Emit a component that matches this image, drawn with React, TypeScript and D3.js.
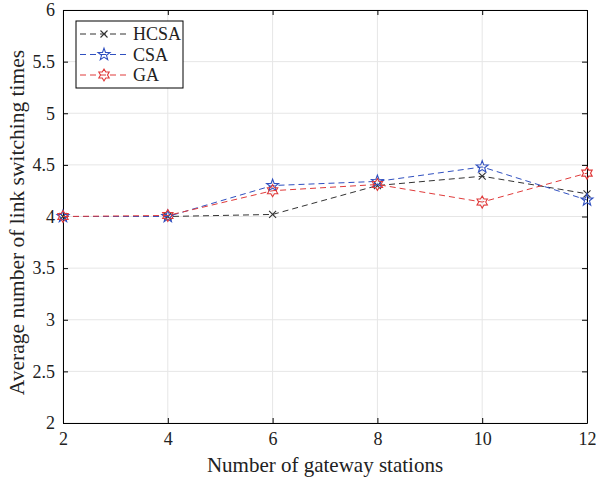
import React, { useEffect, useRef } from "react";
import * as d3 from "d3";

const stations = [2, 4, 6, 8, 10, 12];
const hcsa = [4.0, 4.0, 4.02, 4.3, 4.39, 4.22];
const csa = [4.0, 4.0, 4.3, 4.34, 4.48, 4.16];
const ga = [4.0, 4.01, 4.25, 4.31, 4.14, 4.42];
const xTicks = [2, 4, 6, 8, 10, 12];
const yTicks = [2, 2.5, 3, 3.5, 4, 4.5, 5, 5.5, 6];

const series = [
	{ name: "HCSA", values: hcsa, color: "#333333", marker: "x" },
	{ name: "CSA", values: csa, color: "#3050c0", marker: "pentagram" },
	{ name: "GA", values: ga, color: "#e03a3a", marker: "hexagram" },
];

function starPath(points, outer, inner) {
	let p = [];
	for (let i = 0; i < points * 2; i++) {
		const r = i % 2 === 0 ? outer : inner;
		const a = (Math.PI * i) / points - Math.PI / 2;
		p.push([r * Math.cos(a), r * Math.sin(a)]);
	}
	return "M" + p.map((d) => d.join(",")).join("L") + "Z";
}

function drawMarker(g, type, color) {
	let d;
	if (type === "x") d = "M-3.5,-3.5L3.5,3.5M-3.5,3.5L3.5,-3.5";
	else if (type === "pentagram") d = starPath(5, 6.3, 2.6);
	else d = starPath(6, 6, 3.5);
	g.append("path")
		.attr("d", d)
		.attr("stroke", color)
		.attr("stroke-width", 1.1)
		.attr("fill", "none");
}

export default function App() {
	const svgRef = useRef();

	useEffect(() => {
		const width = 596,
			height = 480;
		const margin = { top: 10, right: 9, bottom: 57, left: 63 };
		const w = width - margin.left - margin.right,
			h = height - margin.top - margin.bottom;

		const svg = d3.select(svgRef.current);
		svg.selectAll("*").remove();

		const g = svg
			.append("g")
			.attr("transform", `translate(${margin.left},${margin.top})`);

		const x = d3.scaleLinear().domain([2, 12]).range([0, w]);
		const y = d3.scaleLinear().domain([2, 6]).range([h, 0]);

		// grid
		g.append("g")
			.selectAll("line")
			.data(xTicks)
			.join("line")
			.attr("x1", (d) => x(d))
			.attr("x2", (d) => x(d))
			.attr("y1", 0)
			.attr("y2", h)
			.attr("stroke", "#e6e6e6");
		g.append("g")
			.selectAll("line")
			.data(yTicks)
			.join("line")
			.attr("y1", (d) => y(d))
			.attr("y2", (d) => y(d))
			.attr("x1", 0)
			.attr("x2", w)
			.attr("stroke", "#e6e6e6");

		const font = "'Liberation Serif', 'Times New Roman', serif";

		// axes
		const styleAxis = (sel) => {
			sel.select(".domain").attr("stroke", "#000");
			sel.selectAll(".tick line").attr("stroke", "#000");
			sel.selectAll("text")
				.attr("font-family", font)
				.attr("font-size", 18)
				.attr("fill", "#222");
		};
		g.append("g")
			.attr("transform", `translate(0,${h})`)
			.call(d3.axisBottom(x).tickValues(xTicks).tickSizeInner(-5).tickSizeOuter(0).tickPadding(9))
			.call(styleAxis);
		g.append("g")
			.call(d3.axisTop(x).tickValues(xTicks).tickSizeInner(-5).tickSizeOuter(0).tickFormat(() => ""))
			.call(styleAxis);
		g.append("g")
			.call(d3.axisLeft(y).tickValues(yTicks).tickSizeInner(-5).tickSizeOuter(0).tickPadding(8).tickFormat(d3.format("")))
			.call(styleAxis);
		g.append("g")
			.attr("transform", `translate(${w},0)`)
			.call(d3.axisRight(y).tickValues(yTicks).tickSizeInner(-5).tickSizeOuter(0).tickFormat(() => ""))
			.call(styleAxis);

		// lines
		const line = d3
			.line()
			.x((d, i) => x(stations[i]))
			.y((d) => y(d));

		series.forEach((s) => {
			g.append("path")
				.datum(s.values)
				.attr("fill", "none")
				.attr("stroke", s.color)
				.attr("stroke-width", 1)
				.attr("stroke-dasharray", "6,4")
				.attr("d", line);
			s.values.forEach((v, i) => {
				const m = g
					.append("g")
					.attr("transform", `translate(${x(stations[i])},${y(v)})`);
				drawMarker(m, s.marker, s.color);
			});
		});

		// labels
		g.append("text")
			.attr("x", w / 2)
			.attr("y", h + 49)
			.attr("text-anchor", "middle")
			.attr("font-family", font)
			.attr("font-size", 21)
			.attr("fill", "#222")
			.text("Number of gateway stations");
		g.append("text")
			.attr("transform", "rotate(-90)")
			.attr("x", -h / 2 - 6)
			.attr("y", -margin.left + 24)
			.attr("text-anchor", "middle")
			.attr("font-family", font)
			.attr("font-size", 21.5)
			.attr("fill", "#222")
			.text("Average number of link switching times");

		// legend
		const lg = g.append("g").attr("transform", "translate(13,11)");
		lg.append("rect")
			.attr("width", 107)
			.attr("height", 67)
			.attr("fill", "#fff")
			.attr("stroke", "#000")
			.attr("stroke-width", 1);
		series.forEach((s, i) => {
			const row = lg.append("g").attr("transform", `translate(0,${13 + i * 20.5})`);
			row.append("line")
				.attr("x1", 4)
				.attr("x2", 54)
				.attr("stroke", s.color)
				.attr("stroke-width", 1)
				.attr("stroke-dasharray", "6,4");
			drawMarker(row.append("g").attr("transform", "translate(28,0)"), s.marker, s.color);
			row.append("text")
				.attr("x", 57)
				.attr("y", 6)
				.attr("font-family", font)
				.attr("font-size", 18)
				.attr("fill", "#222")
				.text(s.name);
		});
	}, []);

	return (
		<svg
			ref={svgRef}
			width={596}
			height={480}
			style={{ position: "absolute", left: 0, top: 0, overflow: "visible" }}
		></svg>
	);
}
